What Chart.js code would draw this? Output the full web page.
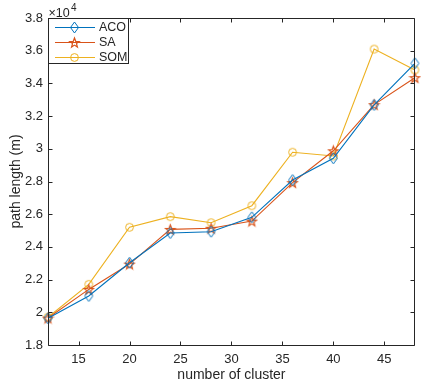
<!DOCTYPE html>
<html>
<head>
<meta charset="utf-8">
<script src="https://cdn.jsdelivr.net/npm/chart.js@4.4.1/dist/chart.umd.min.js"></script>
<style>
  body { margin: 0; background: #fff; }
  canvas { display: block; }
</style>
</head>
<body>
<canvas id="chart" width="421" height="389"></canvas>
<script>
// data
const clusters = [12, 16, 20, 24, 28, 32, 36, 40, 44, 48];
const aco = [19630, 21000, 23030, 24850, 24930, 25810, 28090, 29420, 32680, 35230];
const sa  = [19650, 21400, 22950, 25070, 25140, 25580, 27930, 29880, 32700, 34350];
const som = [19700, 21710, 25200, 25850, 25480, 26520, 29790, 29560, 36100, 34820];

const xTicks = [15, 20, 25, 30, 35, 40, 45];
const yTicks = [18000, 20000, 22000, 24000, 26000, 28000, 30000, 32000, 34000, 36000, 38000];

const axisColor = '#262626';
const FONT = "'Liberation Sans', Arial, sans-serif";

Chart.defaults.font.family = FONT;
Chart.defaults.color = axisColor;

// marker canvases
function makeMarker(w, h, draw) {
  var c = document.createElement('canvas');
  c.width = w; c.height = h;
  var ctx = c.getContext('2d');
  draw(ctx, w, h);
  return c;
}
const diamond = makeMarker(11, 13, function(ctx, w, h) {
  ctx.strokeStyle = '#0072BD';
  ctx.lineWidth = 1;
  ctx.beginPath();
  ctx.moveTo(w / 2, 1);
  ctx.lineTo(w - 1.5, h / 2);
  ctx.lineTo(w / 2, h - 1);
  ctx.lineTo(1.5, h / 2);
  ctx.closePath();
  ctx.stroke();
});
const pentagram = makeMarker(13, 13, function(ctx, w, h) {
  ctx.strokeStyle = '#D95319';
  ctx.lineWidth = 1.2;
  ctx.beginPath();
  var cx = w / 2, cy = h / 2 + 0.5, ro = 5, ri = 2.1;
  for (var k = 0; k < 10; k++) {
    var r = k % 2 == 0 ? ro : ri;
    var a = -Math.PI / 2 + k * Math.PI / 5;
    var px = cx + r * Math.cos(a), py = cy + r * Math.sin(a);
    if (k == 0) ctx.moveTo(px, py); else ctx.lineTo(px, py);
  }
  ctx.closePath();
  ctx.stroke();
});
const circle = makeMarker(11, 11, function(ctx, w, h) {
  ctx.strokeStyle = '#EDB120';
  ctx.lineWidth = 1;
  ctx.beginPath();
  ctx.arc(w / 2, h / 2, 3.9, 0, Math.PI * 2);
  ctx.stroke();
});

function toPoints(arr) {
  return clusters.map(function(x, i) { return { x: x, y: arr[i] }; });
}

const series = [
  { label: 'ACO', data: aco, color: '#0072BD', marker: diamond },
  { label: 'SA', data: sa, color: '#D95319', marker: pentagram },
  { label: 'SOM', data: som, color: '#EDB120', marker: circle }
];

const datasets = series.map(function(s) {
  return {
    label: s.label,
    data: toPoints(s.data),
    borderColor: s.color,
    backgroundColor: s.color,
    borderWidth: 1.1,
    pointStyle: s.marker,
    pointRadius: 5,
    tension: 0,
    clip: false
  };
});

// white background, box with inward ticks, exponent label, legend
const matlabAxes = {
  id: 'matlabAxes',
  beforeDraw: function(chart) {
    var ctx = chart.ctx;
    ctx.save();
    ctx.fillStyle = '#fff';
    ctx.fillRect(0, 0, chart.width, chart.height);
    ctx.restore();
  },
  afterDraw: function(chart) {
    var ctx = chart.ctx;
    var a = chart.chartArea;
    var xs = chart.scales.x, ys = chart.scales.y;
    var L = Math.round(a.left) + 0.5, R = Math.round(a.right) - 0.5;
    var T = Math.round(a.top) + 0.5, B = Math.round(a.bottom) + 0.5;
    var tl = 4;
    ctx.save();
    ctx.strokeStyle = axisColor;
    ctx.lineWidth = 1;
    ctx.beginPath();
    ctx.rect(L, T, R - L, B - T);
    xTicks.forEach(function(v) {
      var px = Math.round(xs.getPixelForValue(v)) + 0.5;
      ctx.moveTo(px, B); ctx.lineTo(px, B - tl);
      ctx.moveTo(px, T); ctx.lineTo(px, T + tl);
    });
    yTicks.forEach(function(v) {
      var py = Math.round(ys.getPixelForValue(v)) + 0.5;
      ctx.moveTo(L, py); ctx.lineTo(L + tl, py);
      ctx.moveTo(R, py); ctx.lineTo(R - tl, py);
    });
    ctx.stroke();

    // x10^4
    ctx.fillStyle = axisColor;
    ctx.textBaseline = 'alphabetic';
    ctx.textAlign = 'left';
    ctx.font = '12.5px ' + FONT;
    ctx.fillText('\u00d710', 48.5, 16.5);
    ctx.font = '10px ' + FONT;
    ctx.fillText('4', 71, 10.5);

    // legend
    var lx = 48.5, ly = 18.5, lw = 80, lh = 45;
    ctx.fillStyle = '#fff';
    ctx.fillRect(lx, ly, lw, lh);
    ctx.strokeStyle = axisColor;
    ctx.strokeRect(lx, ly, lw, lh);
    ctx.font = '12.5px ' + FONT;
    ctx.textBaseline = 'middle';
    series.forEach(function(s, i) {
      var yy = 27 + i * 15;
      ctx.strokeStyle = s.color;
      ctx.beginPath();
      ctx.moveTo(55, yy + 0.5);
      ctx.lineTo(95, yy + 0.5);
      ctx.stroke();
      var m = s.marker;
      ctx.drawImage(m, 74.5 - m.width / 2, yy + 0.5 - m.height / 2);
      ctx.fillStyle = axisColor;
      ctx.fillText(s.label, 99, yy + 1);
    });
    ctx.restore();
  }
};

new Chart(document.getElementById('chart'), {
  type: 'line',
  data: { datasets: datasets },
  options: {
    responsive: false,
    animation: false,
    layout: { padding: { top: 18, right: 1, left: 0, bottom: 0 } },
    plugins: {
      legend: { display: false },
      tooltip: { enabled: false }
    },
    scales: {
      x: {
        type: 'linear',
        min: 12,
        max: 48,
        afterBuildTicks: function(scale) {
          scale.ticks = xTicks.map(function(v) { return { value: v }; });
        },
        afterFit: function(scale) { scale.height = 44; },
        grid: { display: false, drawTicks: false },
        border: { display: false },
        ticks: { padding: 7, font: { size: 13 }, color: axisColor, maxRotation: 0 },
        title: {
          display: true,
          text: 'number of cluster',
          font: { size: 14 },
          color: axisColor,
          padding: { top: 0, bottom: 5 }
        }
      },
      y: {
        type: 'linear',
        min: 18000,
        max: 38000,
        afterBuildTicks: function(scale) {
          scale.ticks = yTicks.map(function(v) { return { value: v }; });
        },
        afterFit: function(scale) { scale.width = 48; },
        grid: { display: false, drawTicks: false },
        border: { display: false },
        ticks: {
          padding: 5,
          font: { size: 13 },
          color: axisColor,
          callback: function(value) {
            return String(parseFloat((value / 10000).toFixed(1)));
          }
        },
        title: {
          display: true,
          text: 'path length (m)',
          font: { size: 14 },
          color: axisColor,
          padding: { top: 8, bottom: 0 }
        }
      }
    }
  },
  plugins: [matlabAxes]
});
</script>
</body>
</html>
